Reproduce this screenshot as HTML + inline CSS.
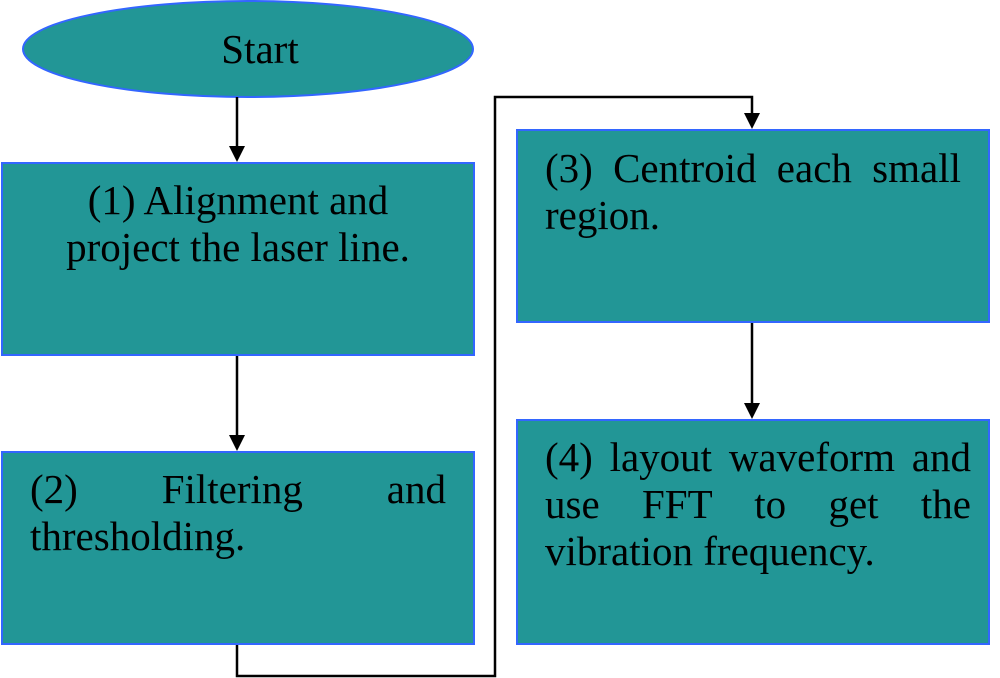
<!DOCTYPE html>
<html><head><style>
body{margin:0;width:1000px;height:678px;background:#fff;position:relative;overflow:hidden;font-family:"Liberation Serif",serif;}
.b{position:absolute;background:#229696;border:2px solid #3366ff;box-sizing:border-box;font-size:41px;line-height:47px;color:#000;}
.j{text-align:justify;text-align-last:left;}
</style></head><body>
<svg width="1000" height="678" style="position:absolute;left:0;top:0">
<ellipse cx="248" cy="49" rx="225" ry="48" fill="#229696" stroke="#3366ff" stroke-width="2"/>
<text x="260" y="63" font-size="41" text-anchor="middle" font-family="Liberation Serif">Start</text>
<g stroke="#000" stroke-width="2.5" fill="none">
<line x1="237" y1="97" x2="237" y2="148"/>
<line x1="237" y1="355" x2="237" y2="437"/>
<line x1="752" y1="322" x2="752" y2="405"/>
<polyline points="237,644 237,676 495,676 495,97 752,97 752,115"/>
</g>
<g fill="#000">
<polygon points="229,146 245,146 237,162"/>
<polygon points="229,435 245,435 237,451"/>
<polygon points="744,403 760,403 752,419"/>
<polygon points="744,113 760,113 752,129"/>
</g>
</svg>
<div class="b" style="left:1px;top:162px;width:474px;height:194px;text-align:center;padding-top:13px">(1) Alignment and<br>project the laser line.</div>
<div class="b j" style="left:1px;top:451px;width:474px;height:194px;padding:13px 27px 0 27px">(2) Filtering and thresholding.</div>
<div class="b j" style="left:516px;top:129px;width:474px;height:194px;padding:14px 27px 0 27px">(3) Centroid each small region.</div>
<div class="b j" style="left:516px;top:419px;width:474px;height:226px;padding:13px 17px 0 27px">(4) layout waveform and use FFT to get the vibration frequency.</div>
</body></html>
